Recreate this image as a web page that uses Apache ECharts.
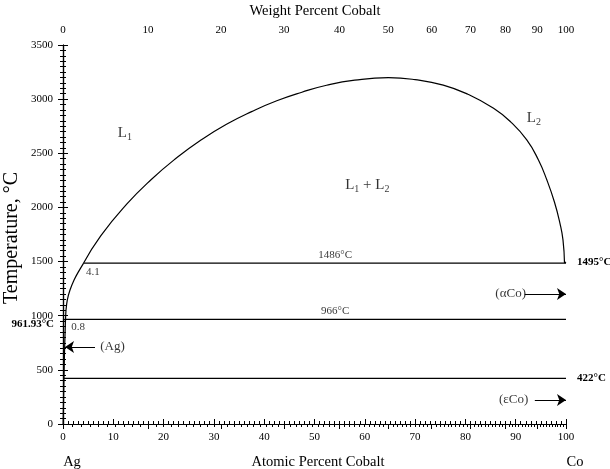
<!DOCTYPE html>
<html>
<head>
<meta charset="utf-8">
<script src="https://cdn.jsdelivr.net/npm/echarts@6/dist/echarts.min.js"></script>
<style>html,body{margin:0;padding:0;background:#fff}#c{width:610px;height:469px}</style>
</head>
<body>
<div id="c"></div>
<script>
// ---- data (x = atomic percent Co, y = temperature °C) ----
var gapCurve = [[4.1,1486],[7.5,1738],[12.66,2030],[17.5,2256],[22.6,2458],[27.5,2625],[32.5,2768],[37.5,2885],[42.5,2985],[47.5,3064],[52.4,3128],[58,3175],[64.7,3198],[70,3180],[75.6,3130],[80.5,3045],[85.6,2915],[89,2790],[92.2,2623],[94.5,2440],[96.2,2253],[97.7,2050],[98.8,1853],[99.4,1700],[99.7,1486]];
var agLiquidusSolvus = [[4.1,1486],[3.0,1400],[2.2,1330],[1.39,1237],[0.85,1145],[0.6,1053],[0.5,966],[0.4,820],[0.3,660],[0.2,450],[0.1,200],[0.03,0]];
var agMelt = [[0,961.93],[0.5,966]];
var coLiquidus = [[99.7,1486],[100,1495]];
var iso1486 = [[4.1,1486],[100,1486]];
var iso966 = [[0.5,966],[100,966]];
var iso422 = [[0,422],[100,422]];
var wtMajor = [0,10,20,30,40,50,60,70,80,90,100];
var yTicks = {min:0, max:3500, interval:500};
var rightLabels = [1495, 422];
var leftSpecial = [961.93];
var annotations = [
  {text:'1486°C', pos:[54.1,1560]},
  {text:'966°C', pos:[54.1,1043]},
  {text:'4.1', pos:[5.96,1404]},
  {text:'0.8', pos:[3.0,898]},
  {text:'(αCo)', pos:[89.0,1200]},
  {text:'(εCo)', pos:[89.6,222]},
  {text:'(Ag)', pos:[9.84,711]}
];
var phaseLabels = [
  {rich:'{a|L}{s|1}', pos:[12.3,2687]},
  {rich:'{a|L}{s|2}', pos:[93.6,2826]},
  {rich:'{a|L}{s|1}{a| + L}{s|2}', pos:[60.5,2207]}
];
var arrows = [
  [[91.8,1200],[100,1200]],
  [[93.8,222],[100,222]],
  [[6.36,711],[0.4,711]]
];

// weight % -> atomic % conversion (axis transform only)
var M_AG = 107.8682, M_CO = 58.9332;
function wtToAt(w){ if (w<=0) return 0; if (w>=100) return 100; var a=w/M_CO, b=(100-w)/M_AG; return a/(a+b)*100; }
var wtMajorPos = wtMajor.map(wtToAt);
var wtMinorPos = [];
for (var i=1;i<100;i++){ if (i%10!==0) wtMinorPos.push(wtToAt(i)); }

var FONT = 'Liberation Serif';
var black = '#000';
function lineSeries(d, smooth){ return {type:'line', data:d, smooth:smooth||false, symbol:'none', xAxisIndex:0, yAxisIndex:0, lineStyle:{color:black,width:1.2}, silent:true, z:3}; }

var chart = echarts.init(document.getElementById('c'), null, {renderer:'canvas'});
var option = {
  animation:false,
  backgroundColor:'#fff',
  grid:{left:63, right:44, top:45, bottom:45, containLabel:false, outerBoundsMode:'none'},
  xAxis:[
    {type:'value', position:'bottom', min:0, max:100, interval:10,
     axisLine:{show:true,lineStyle:{color:black,width:1.2}},
     axisTick:{show:true,inside:true,length:5,lineStyle:{color:black}},
     minorTick:{show:true,splitNumber:10,length:3,lineStyle:{color:black}},
     splitLine:{show:false},
     axisLabel:{color:black,fontFamily:FONT,fontSize:11,margin:8,formatter:function(v){return String(v);}}},
    {type:'value', position:'top', min:0, max:100,
     axisLine:{show:true,lineStyle:{color:black,width:1.2}},
     axisTick:{show:true,inside:true,length:5,customValues:wtMajorPos,lineStyle:{color:black}},
     splitLine:{show:false},
     axisLabel:{color:black,fontFamily:FONT,fontSize:11,margin:9,customValues:wtMajorPos,
       formatter:function(v){ for (var k=0;k<wtMajorPos.length;k++){ if (Math.abs(wtMajorPos[k]-v)<1e-6) return String(wtMajor[k]); } return ''; }}},
    {type:'value', position:'top', min:0, max:100,
     axisLine:{show:false},
     axisTick:{show:true,inside:true,length:3,customValues:wtMinorPos,lineStyle:{color:black}},
     splitLine:{show:false},
     axisLabel:{show:false}}
  ],
  yAxis:[
    {type:'value', position:'left', min:yTicks.min, max:yTicks.max, interval:yTicks.interval,
     axisLine:{show:true,lineStyle:{color:black,width:1.2}},
     axisTick:{show:true,inside:false,length:5,lineStyle:{color:black}},
     minorTick:{show:true,splitNumber:10,length:3,lineStyle:{color:black}},
     splitLine:{show:false},
     axisLabel:{color:black,fontFamily:FONT,fontSize:11,margin:10,formatter:function(v){return String(v);}}},
    {type:'value', position:'right', min:yTicks.min, max:yTicks.max, interval:yTicks.interval,
     axisLine:{show:true,lineStyle:{color:black,width:1.2}},
     axisTick:{show:true,inside:false,length:5,lineStyle:{color:black}},
     minorTick:{show:true,splitNumber:10,length:3,lineStyle:{color:black}},
     splitLine:{show:false},
     axisLabel:{color:black,fontFamily:FONT,fontSize:11,fontWeight:'bold',margin:11,customValues:rightLabels,
       formatter:function(v){ return v+'°C'; }}},
    {type:'value', position:'left', min:yTicks.min, max:yTicks.max,
     axisLine:{show:false}, axisTick:{show:false}, splitLine:{show:false},
     axisLabel:{color:black,fontFamily:FONT,fontSize:11,fontWeight:'bold',margin:9,customValues:leftSpecial,
       verticalAlign:'top', lineHeight:8,
       formatter:function(v){ return v+'°C'; }}}
  ],
  series:[
    lineSeries(gapCurve, 0.5),
    lineSeries(agLiquidusSolvus, 0.3),
    lineSeries(agMelt),
    lineSeries(coLiquidus),
    lineSeries(iso1486),
    lineSeries(iso966),
    lineSeries(iso422),
    {type:'lines', coordinateSystem:'cartesian2d', xAxisIndex:0, yAxisIndex:0, silent:true, z:4,
     symbol:['none','arrow'], symbolSize:9,
     lineStyle:{color:black,width:1,opacity:1},
     data:arrows.map(function(c){ return {coords:c}; })},
    {type:'scatter', xAxisIndex:0, yAxisIndex:0, symbolSize:0, silent:true, z:5,
     data:annotations.map(function(a){
       var big = a.text.charAt(0)==='(';
       return {value:a.pos, label:{show:true, position:'inside', formatter:a.text, color:black,
               fontFamily:FONT, fontSize: big?13:11, align:'center', verticalAlign:'middle'}};
     })},
    {type:'scatter', xAxisIndex:0, yAxisIndex:0, symbolSize:0, silent:true, z:5,
     data:phaseLabels.map(function(a){
       return {value:a.pos, label:{show:true, position:'inside', formatter:a.rich, align:'center', verticalAlign:'middle',
         rich:{a:{fontFamily:FONT,fontSize:15,color:black,lineHeight:18},
               s:{fontFamily:FONT,fontSize:10,color:black,lineHeight:10,padding:[9,0,0,0],verticalAlign:'bottom'}}}};
     })}
  ],
  graphic:[
    {type:'text', x:315, y:11, style:{text:'Weight Percent Cobalt', font:'14.5px "Liberation Serif"', fill:black, align:'center', verticalAlign:'middle'}},
    {type:'text', x:318, y:462, style:{text:'Atomic Percent Cobalt', font:'14.5px "Liberation Serif"', fill:black, align:'center', verticalAlign:'middle'}},
    {type:'text', x:72, y:462, style:{text:'Ag', font:'14.5px "Liberation Serif"', fill:black, align:'center', verticalAlign:'middle'}},
    {type:'text', x:575, y:462, style:{text:'Co', font:'14.5px "Liberation Serif"', fill:black, align:'center', verticalAlign:'middle'}},
    {type:'text', x:12, y:238, rotation:Math.PI/2, style:{text:'Temperature, °C', font:'20px "Liberation Serif"', fill:black, align:'center', verticalAlign:'middle'}}
  ]
};
chart.setOption(option);
</script>
</body>
</html>
